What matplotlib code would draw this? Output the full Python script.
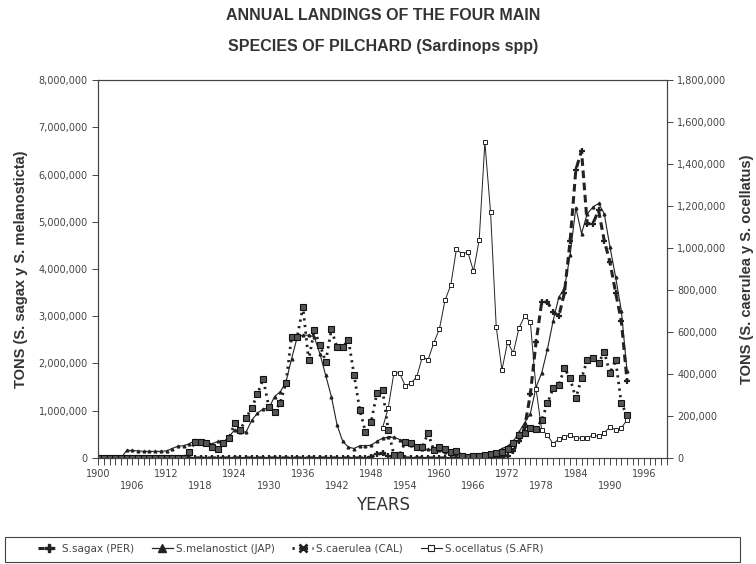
import numpy as np
import matplotlib
matplotlib.use("Agg")
import matplotlib.pyplot as plt
from matplotlib.lines import Line2D
from matplotlib.patches import Rectangle
from matplotlib.ticker import FuncFormatter, MultipleLocator

# landings
years = list(range(1900, 1994))

# S. sagax (PER), million tons, left axis
per_mt = [0, 0, 0, 0, 0, 0, 0, 0, 0, 0,
          0, 0, 0, 0, 0, 0, 0, 0, 0, 0,
          0, 0, 0, 0, 0, 0, 0, 0, 0, 0,
          0, 0, 0, 0, 0, 0, 0, 0, 0, 0,
          0, 0, 0, 0, 0, 0, 0, 0, 0.02, 0.08,
          0.1, 0.05, 0.01, 0, 0, 0, 0, 0, 0, 0,
          0, 0, 0, 0, 0, 0, 0, 0, 0, 0,
          0.01, 0.03, 0.05, 0.15, 0.35, 0.65, 1.35, 2.45, 3.3, 3.3,
          3.1, 3.0, 3.5, 4.6, 6.1, 6.5, 4.96, 4.96, 5.24, 4.6,
          4.15, 3.5, 2.9, 1.64]

# S. melanosticta (JAP), million tons, left axis
jap_mt = [0, 0, 0, 0, 0, 0.16, 0.16, 0.15, 0.14, 0.14,
          0.14, 0.14, 0.15, 0.2, 0.25, 0.26, 0.3, 0.37, 0.35, 0.33,
          0.3, 0.35, 0.3, 0.45, 0.6, 0.55, 0.55, 0.8, 0.95, 1.04,
          1.05, 1.3, 1.4, 1.6, 2.1, 2.56, 2.6, 2.6, 2.56, 2.2,
          1.75, 1.3, 0.7, 0.35, 0.23, 0.2, 0.26, 0.26, 0.27, 0.35,
          0.42, 0.44, 0.44, 0.39, 0.33, 0.28, 0.24, 0.2, 0.18, 0.17,
          0.16, 0.12, 0.1, 0.08, 0.05, 0.02, 0.03, 0.04, 0.06, 0.08,
          0.12, 0.2, 0.25, 0.35, 0.55, 0.75, 0.94, 1.5, 1.8, 2.3,
          2.9, 3.4, 3.6, 4.3, 5.3, 4.75, 5.17, 5.31, 5.39, 5.17,
          4.47, 3.83, 3.12, 1.85]

# S. caerulea (CAL), thousand tons, right axis
cal_kt = [0, 0, 0, 0, 0, 0, 0, 0, 0, 0,
          0, 0, 0, 0, 0, 0, 30, 75, 75, 72,
          50, 45, 71, 95, 165, 133, 190, 238, 305, 376,
          244, 220, 263, 356, 578, 578, 720, 466, 609, 538,
          458, 612, 527, 527, 562, 395, 228, 125, 173, 308,
          324, 133, 14, 14, 78, 70, 54, 50, 119, 38,
          53, 45, 29, 33, 10, 5, 10, 10, 15, 20,
          25, 30, 45, 70, 110, 120, 145, 140, 180, 260,
          332, 348, 427, 379, 284, 379, 466, 474, 451, 506,
          403, 466, 260, 205]

# S. ocellatus (S.AFR), thousand tons, right axis
safr_years = list(range(1950, 1994))
safr_kt = [143, 238, 405, 405, 343, 357, 385, 481, 467, 547,
           614, 752, 823, 995, 971, 981, 890, 1038, 1504, 1171,
           624, 419, 552, 500, 619, 676, 647, 330, 133, 110,
           67, 90, 100, 110, 95, 95, 95, 110, 103, 120,
           148, 133, 143, 181]

labels = ["S.sagax (PER)", "S.melanostict (JAP)",
          "S.caerulea (CAL)", "S.ocellatus (S.AFR)"]

ink = "#222222"
grey = "#444444"

fig = plt.figure(figsize=(7.56, 5.64), dpi=100)
ax = fig.add_axes([0.130, 0.188, 0.752, 0.670])
ax2 = ax.twinx()

ax.plot(years, np.array(per_mt) * 1e6, color=ink, lw=2.2, ls=(0, (2.5, 1.5)),
        marker="+", ms=5, mew=1.6)
ax.plot(years, np.array(jap_mt) * 1e6, color=ink, lw=0.8,
        marker="^", ms=2)
ax2.plot(years, np.array(cal_kt) * 1e3, color=ink, lw=2.0, ls=(0, (0.8, 1.6)),
         marker="s", ms=4.2, mfc="#555555", mec="#111111", mew=0.8)
ax2.plot(safr_years, np.array(safr_kt) * 1e3, color=ink, lw=0.7,
         marker="s", ms=3.5, mfc="white", mec=ink, mew=0.7)

ax.set_xlim(1900, 2000)
ax.set_ylim(0, 8e6)
ax2.set_ylim(0, 1.8e6)

comma = FuncFormatter(lambda v, p: f"{int(v):,}")
ax.yaxis.set_major_locator(MultipleLocator(1e6))
ax.yaxis.set_major_formatter(comma)
ax2.yaxis.set_major_locator(MultipleLocator(2e5))
ax2.yaxis.set_major_formatter(comma)

xt = list(range(1900, 1997, 6))
ax.set_xticks(xt)
ax.set_xticklabels([str(y) if (y - 1900) % 12 == 0 else "\n" + str(y) for y in xt])
ax.xaxis.set_minor_locator(MultipleLocator(1))

for a in (ax, ax2):
    a.tick_params(axis="both", which="both", direction="out", length=4,
                  width=0.7, colors=grey, labelsize=7)
    for s in a.spines.values():
        s.set_color(grey)
        s.set_linewidth(0.8)
ax.tick_params(axis="x", which="minor", length=5)
ax.tick_params(axis="x", which="major", length=5, pad=3)

fig.text(0.507, 0.972, "ANNUAL LANDINGS OF THE FOUR MAIN", ha="center", va="center",
         fontsize=11.5, fontweight="bold", family="Liberation Sans", color="#333333")
fig.text(0.507, 0.918, "SPECIES OF PILCHARD (Sardinops spp)", ha="center", va="center",
         fontsize=11.5, fontweight="bold", family="Liberation Sans", color="#333333")

ax.set_ylabel("TONS (S. sagax y S. melanosticta)", fontsize=10.5, fontweight="bold",
              family="Liberation Sans", color="#333333", labelpad=8)
ax2.set_ylabel("TONS (S. caerulea y S. ocellatus)", fontsize=10.5, fontweight="bold",
               family="Liberation Sans", color="#333333", labelpad=10)
ax.set_xlabel("YEARS", fontsize=12, color="#333333", labelpad=4)

handles = [
    Line2D([], [], color=ink, lw=2.2, ls=(0, (2, 1.5)), marker="P", ms=6),
    Line2D([], [], color=ink, lw=0.9, marker="^", ms=6),
    Line2D([], [], color=ink, lw=2, ls=(0, (0.8, 1.6)), marker="x", ms=6, mew=2),
    Line2D([], [], color=ink, lw=0.8, marker="s", ms=5, mfc="white", mec=ink, mew=0.8),
]
fig.legend(handles, labels, ncol=4, loc="center left", bbox_to_anchor=(0.038, 0.027),
           frameon=False, fontsize=7.5, handlelength=2.0, handletextpad=0.3,
           columnspacing=1.7, labelcolor=grey)
fig.patches.append(Rectangle((0.007, 0.004), 0.972, 0.044, transform=fig.transFigure,
                             fill=False, lw=0.8, ec=grey))

fig.savefig("out.png", dpi=100)
